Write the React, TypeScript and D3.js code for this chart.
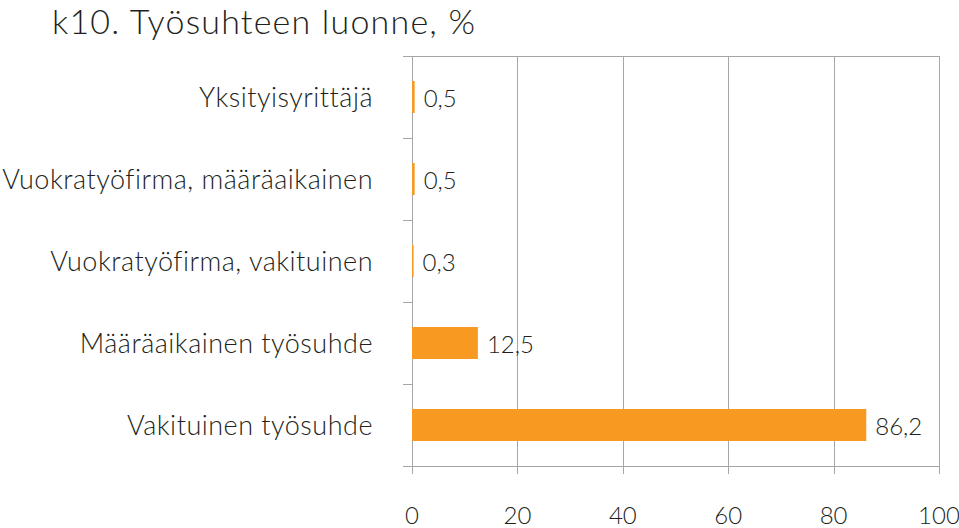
import { useRef, useEffect } from "react";
import * as d3 from "d3";

const categories = [
  "Yksityisyrittäjä",
  "Vuokratyöfirma, määräaikainen",
  "Vuokratyöfirma, vakituinen",
  "Määräaikainen työsuhde",
  "Vakituinen työsuhde",
];
const values = [0.5, 0.5, 0.3, 12.5, 86.2];
const xTicks = [0, 20, 40, 60, 80, 100];

const W = 959;
const H = 528;
const FONT = "Lato, 'Noto Sans', sans-serif";
const INK = "#231f20";

export default function App() {
  const svgRef = useRef<SVGSVGElement>(null);

  useEffect(() => {
    if (!svgRef.current) return;
    const svg = d3.select(svgRef.current);
    svg.selectAll("*").remove();

    const margin = { top: 56, right: 20, bottom: 62, left: 412 };
    const x = d3.scaleLinear().domain([0, 100]).range([margin.left, W - margin.right]);
    const y = d3.scaleBand().domain(categories).range([margin.top, H - margin.bottom]);
    const barH = y.bandwidth() * 0.39;

    svg.append("rect").attr("width", W).attr("height", H).attr("fill", "#fff");

    // title
    svg.append("text")
      .attr("x", 52)
      .attr("y", 34)
      .attr("font-family", FONT)
      .attr("font-size", 34)
      .attr("font-weight", 300)
      .attr("letter-spacing", 1.2)
      .attr("fill", INK)
      .text("k10. Työsuhteen luonne, %");

    const grid = svg.append("g").attr("stroke", "#a6a6a6").attr("stroke-width", 1);

    // vertical gridlines
    xTicks.forEach((t) => {
      grid.append("line")
        .attr("x1", Math.round(x(t)) + 0.5)
        .attr("x2", Math.round(x(t)) + 0.5)
        .attr("y1", margin.top)
        .attr("y2", H - margin.bottom + 8);
    });

    // top border and bottom axis
    [margin.top, H - margin.bottom].forEach((yy) => {
      grid.append("line")
        .attr("x1", margin.left - 9)
        .attr("x2", x(100))
        .attr("y1", yy + 0.5)
        .attr("y2", yy + 0.5);
    });

    // category separators (ticks on left)
    categories.slice(0, -1).forEach((c) => {
      const yy = (y(c) ?? 0) + y.bandwidth();
      grid.append("line")
        .attr("x1", margin.left - 9)
        .attr("x2", margin.left)
        .attr("y1", Math.round(yy) + 0.5)
        .attr("y2", Math.round(yy) + 0.5);
    });

    // bars
    categories.forEach((c, i) => {
      const cy = (y(c) ?? 0) + y.bandwidth() / 2;
      svg.append("rect")
        .attr("x", x(0))
        .attr("y", cy - barH / 2)
        .attr("width", Math.max(x(values[i]) - x(0), 1.5))
        .attr("height", barH)
        .attr("fill", "#f89a22");

      svg.append("text")
        .attr("x", x(values[i]) + 9)
        .attr("y", cy + 10)
        .attr("font-family", FONT)
        .attr("font-size", 24)
        .attr("font-weight", 300)
        .attr("fill", INK)
        .text(values[i].toFixed(1).replace(".", ","));

      svg.append("text")
        .attr("x", 373)
        .attr("y", cy + 10)
        .attr("text-anchor", "end")
        .attr("font-family", FONT)
        .attr("font-size", 27)
        .attr("font-weight", 300)
        .attr("letter-spacing", 0.5)
        .attr("fill", INK)
        .text(c);
    });

    // x tick labels
    xTicks.forEach((t) => {
      svg.append("text")
        .attr("x", x(t))
        .attr("y", 524)
        .attr("text-anchor", "middle")
        .attr("font-family", FONT)
        .attr("font-size", 24)
        .attr("font-weight", 300)
        .attr("fill", INK)
        .text(String(t));
    });
  }, []);

  return (
    <div style={{ position: "absolute", left: 0, top: 0 }}>
      <svg ref={svgRef} width={W} height={H} style={{ display: "block" }} />
    </div>
  );
}
